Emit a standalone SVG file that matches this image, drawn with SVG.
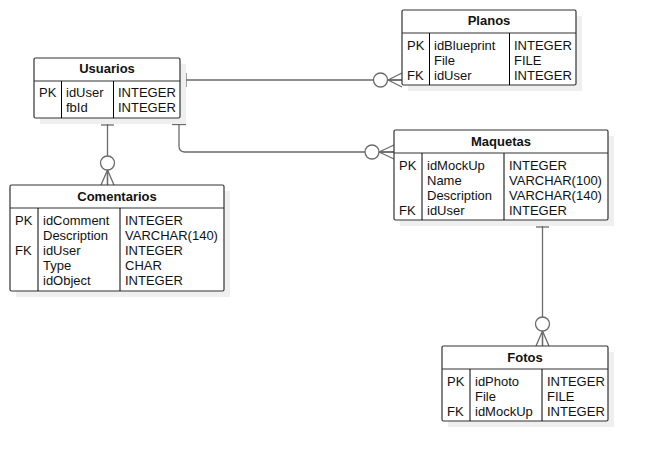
<svg xmlns="http://www.w3.org/2000/svg" width="648" height="461" viewBox="0 0 648 461">
<style>
.bg{fill:#ffffff}
.sh{fill:#efefef}
.box{fill:#ffffff;stroke:#333333;stroke-width:1.2}
.ln{stroke:#333333;stroke-width:1.2;fill:none}
.dv{stroke:#000000;stroke-width:1;fill:none}
.t{font-family:"Liberation Sans",Arial,sans-serif;font-size:13px;fill:#111111}
.h{font-family:"Liberation Sans",Arial,sans-serif;font-size:13px;font-weight:bold;fill:#111111;text-anchor:middle}
.c{stroke:#6b6b6b;stroke-width:1.3;fill:none}
.o{stroke:#6b6b6b;stroke-width:1.3;fill:#ffffff}
</style>
<rect class="bg" x="0" y="0" width="648" height="461"/>

<g id="connectors">
  <!-- Usuarios - Planos -->
  <path class="c" d="M180,80 H402"/>
  <path class="c" d="M186,73 V87"/>
  <path class="c" d="M388,80 L402,73 M388,80 L402,80 M388,80 L402,87"/>
  <circle class="o" cx="380.5" cy="80" r="7"/>
  <!-- Usuarios - Maquetas -->
  <path class="c" d="M179,118 V146 Q179,152 185,152 H394"/>
  <path class="c" d="M172,124.5 H186"/>
  <path class="c" d="M379,152 L394,145 M379,152 L394,152 M379,152 L394,159"/>
  <circle class="o" cx="372" cy="152" r="7"/>
  <!-- Usuarios - Comentarios -->
  <path class="c" d="M107.5,118 V185"/>
  <path class="c" d="M101,125 H114"/>
  <path class="c" d="M107.5,170 L101,185 M107.5,170 L107.5,185 M107.5,170 L114,185"/>
  <circle class="o" cx="107.5" cy="163" r="7"/>
  <!-- Maquetas - Fotos -->
  <path class="c" d="M542.5,220 V346"/>
  <path class="c" d="M536,227 H549"/>
  <path class="c" d="M542.5,331 L536,346 M542.5,331 L542.5,346 M542.5,331 L549,346"/>
  <circle class="o" cx="542.5" cy="324" r="7"/>
</g>

<g id="planos">
  <rect class="sh" x="408" y="16" width="174" height="75"/>
  <rect class="box" x="402" y="10" width="174" height="75" rx="1.5"/>
  <path class="ln" d="M402,33 H576"/>
  <path class="dv" d="M429.5,33 V85 M509.5,33 V85"/>
  <text class="h" x="489" y="25">Planos</text>
  <text class="t" x="407" y="49.5">PK</text>
  <text class="t" x="407" y="79.5">FK</text>
  <text class="t" x="434" y="49.5">idBlueprint</text>
  <text class="t" x="434" y="64.5">File</text>
  <text class="t" x="434" y="79.5">idUser</text>
  <text class="t" x="514" y="49.5">INTEGER</text>
  <text class="t" x="514" y="64.5">FILE</text>
  <text class="t" x="514" y="79.5">INTEGER</text>
</g>

<g id="usuarios">
  <rect class="sh" x="40" y="64" width="146" height="60"/>
  <rect class="box" x="34" y="58" width="146" height="60" rx="1.5"/>
  <path class="ln" d="M34,81 H180"/>
  <path class="dv" d="M61.5,81 V118 M113.5,81 V118"/>
  <text class="h" x="107" y="73">Usuarios</text>
  <text class="t" x="39" y="97">PK</text>
  <text class="t" x="66" y="97">idUser</text>
  <text class="t" x="66" y="112">fbId</text>
  <text class="t" x="118" y="97">INTEGER</text>
  <text class="t" x="118" y="112">INTEGER</text>
</g>

<g id="maquetas">
  <rect class="sh" x="400" y="136" width="214" height="90"/>
  <rect class="box" x="394" y="130" width="214" height="90" rx="1.5"/>
  <path class="ln" d="M394,153 H608"/>
  <path class="dv" d="M422,153 V220 M504,153 V220"/>
  <text class="h" x="501" y="145.5">Maquetas</text>
  <text class="t" x="399" y="169.5">PK</text>
  <text class="t" x="399" y="214.5">FK</text>
  <text class="t" x="427" y="169.5">idMockUp</text>
  <text class="t" x="427" y="184.5">Name</text>
  <text class="t" x="427" y="199.5">Description</text>
  <text class="t" x="427" y="214.5">idUser</text>
  <text class="t" x="509" y="169.5">INTEGER</text>
  <text class="t" x="509" y="184.5">VARCHAR(100)</text>
  <text class="t" x="509" y="199.5">VARCHAR(140)</text>
  <text class="t" x="509" y="214.5">INTEGER</text>
</g>

<g id="comentarios">
  <rect class="sh" x="16" y="191" width="214" height="106"/>
  <rect class="box" x="10" y="185" width="214" height="106" rx="1.5"/>
  <path class="ln" d="M10,208 H224"/>
  <path class="dv" d="M38,208 V291 M120,208 V291"/>
  <text class="h" x="117" y="200.5">Comentarios</text>
  <text class="t" x="15" y="225">PK</text>
  <text class="t" x="15" y="255">FK</text>
  <text class="t" x="43" y="225">idComment</text>
  <text class="t" x="43" y="240">Description</text>
  <text class="t" x="43" y="255">idUser</text>
  <text class="t" x="43" y="270">Type</text>
  <text class="t" x="43" y="285">idObject</text>
  <text class="t" x="125" y="225">INTEGER</text>
  <text class="t" x="125" y="240">VARCHAR(140)</text>
  <text class="t" x="125" y="255">INTEGER</text>
  <text class="t" x="125" y="270">CHAR</text>
  <text class="t" x="125" y="285">INTEGER</text>
</g>

<g id="fotos">
  <rect class="sh" x="448" y="352" width="166" height="75"/>
  <rect class="box" x="442" y="346" width="166" height="75" rx="1.5"/>
  <path class="ln" d="M442,369 H608"/>
  <path class="dv" d="M470,369 V421 M542,369 V421"/>
  <text class="h" x="525" y="361.5">Fotos</text>
  <text class="t" x="447" y="385.5">PK</text>
  <text class="t" x="447" y="415.5">FK</text>
  <text class="t" x="475" y="385.5">idPhoto</text>
  <text class="t" x="475" y="400.5">File</text>
  <text class="t" x="475" y="415.5">idMockUp</text>
  <text class="t" x="547" y="385.5">INTEGER</text>
  <text class="t" x="547" y="400.5">FILE</text>
  <text class="t" x="547" y="415.5">INTEGER</text>
</g>
</svg>
